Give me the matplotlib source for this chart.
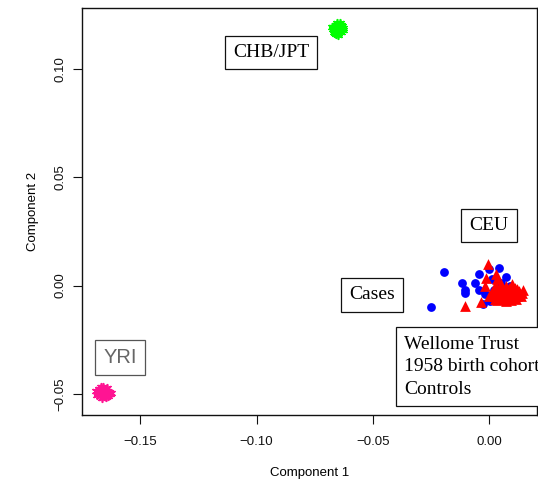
import matplotlib
matplotlib.use("Agg")
import matplotlib.pyplot as plt

# ---- data ----
chb_x = [-0.0660, -0.0650, -0.0640, -0.0655, -0.0645, -0.0635, -0.0665, -0.0670, -0.0648, -0.0630,
         -0.0658, -0.0642, -0.0662, -0.0652, -0.0638, -0.0672, -0.0628, -0.0655, -0.0668, -0.0645,
         -0.0636, -0.0660, -0.0650, -0.0675, -0.0632]
chb_y = [0.1190, 0.1195, 0.1185, 0.1175, 0.1200, 0.1192, 0.1180, 0.1195, 0.1168, 0.1178,
         0.1205, 0.1210, 0.1165, 0.1185, 0.1170, 0.1185, 0.1188, 0.1212, 0.1172, 0.1180,
         0.1204, 0.1160, 0.1158, 0.1192, 0.1198]

yri_x = [-0.1660, -0.1650, -0.1670, -0.1645, -0.1675, -0.1655, -0.1640, -0.1665, -0.1680, -0.1635,
         -0.1658, -0.1672, -0.1648, -0.1685, -0.1630, -0.1662, -0.1643, -0.1677, -0.1652, -0.1668,
         -0.1638, -0.1688, -0.1656, -0.1625, -0.1670]
yri_y = [-0.0490, -0.0495, -0.0500, -0.0485, -0.0488, -0.0510, -0.0500, -0.0478, -0.0495, -0.0490,
         -0.0470, -0.0512, -0.0515, -0.0505, -0.0502, -0.0520, -0.0475, -0.0480, -0.0503, -0.0493,
         -0.0512, -0.0488, -0.0482, -0.0495, -0.0468]

controls_x = [-0.0193, -0.0249, -0.0119, -0.0106, -0.0102, -0.0046, -0.0046, -0.0025, 0.0001, 0.0040,
              0.0070, 0.0062, -0.0059, 0.0020, 0.0050, 0.0080, 0.0110, 0.0040, 0.0010, 0.0130,
              0.0090, -0.0020, 0.0005]
controls_y = [0.0063, -0.0098, 0.0012, -0.0020, -0.0034, 0.0054, -0.0020, -0.0085, 0.0077, 0.0082,
              0.0040, -0.0071, 0.0012, -0.0020, 0.0010, -0.0040, -0.0020, -0.0060, 0.0030, -0.0050,
              0.0000, -0.0040, -0.0070]

cases_x = [0.0010, 0.0020, 0.0020, 0.0030, 0.0030, 0.0035, 0.0040, 0.0045, 0.0050, 0.0050,
           0.0055, 0.0060, 0.0065, 0.0070, 0.0070, 0.0075, 0.0080, 0.0085, 0.0090, 0.0095,
           0.0100, 0.0100, 0.0105, 0.0110, 0.0115, 0.0120, 0.0125, 0.0130, 0.0135, 0.0140,
           0.0145, 0.0060, 0.0040, 0.0085, 0.0110, 0.0025, 0.0015, 0.0120, 0.0075, 0.0095,
           -0.0007, -0.0106, -0.0037, 0.0027, -0.0012, 0.0035, -0.0020, 0.0000]
cases_y = [-0.0030, -0.0010, -0.0050, -0.0030, 0.0000, -0.0065, -0.0020, -0.0045, 0.0005, -0.0030,
           -0.0060, -0.0015, -0.0040, -0.0070, 0.0000, -0.0025, -0.0050, -0.0010, -0.0035, -0.0065,
           -0.0020, 0.0005, -0.0045, -0.0030, -0.0060, -0.0015, -0.0040, -0.0025, -0.0050, -0.0035,
           -0.0020, -0.0055, -0.0040, -0.0060, -0.0010, -0.0060, -0.0045, -0.0050, -0.0045, -0.0005,
           0.0100, -0.0094, -0.0075, 0.0054, 0.0036, 0.0030, 0.0000, -0.0050]

x_ticks = [-0.15, -0.10, -0.05, 0.00]
y_ticks = [-0.05, 0.00, 0.05, 0.10]

# ---- figure ----
plt.rcParams['font.family'] = ['Liberation Sans', 'DejaVu Sans']
fig = plt.figure(figsize=(5.38, 4.8), dpi=100)
ax = fig.add_axes([0.1524, 0.1344, 0.8456, 0.8483])

ast = (6, 2, 0)
ax.scatter(chb_x, chb_y, marker=ast, s=30, color='#00FF00', linewidths=1.2, zorder=3)
ax.scatter(yri_x, yri_y, marker=ast, s=30, color='#FF1493', linewidths=1.2, zorder=3)
ax.scatter(controls_x, controls_y, marker='o', s=40, color='#0000FF', linewidths=0, zorder=3)
ax.scatter(cases_x, cases_y, marker='^', s=60, color='#FF0000', linewidths=0, zorder=4)

ax.set_xlim(-0.175, 0.0205)
ax.set_ylim(-0.060, 0.128)
ax.set_xticks(x_ticks)
ax.set_xticklabels(['\u22120.15', '\u22120.10', '\u22120.05', '0.00'])
ax.set_yticks(y_ticks)
ax.set_yticklabels(['\u22120.05', '0.00', '0.05', '0.10'], rotation=90, va='center')
ax.tick_params(axis='both', direction='out', length=6.5, width=0.8, labelsize=9.5, colors='#111111')
ax.tick_params(axis='x', pad=8)
ax.tick_params(axis='y', pad=5)
for s in ax.spines.values():
    s.set_linewidth(1.0)
    s.set_color('#111111')

ax.set_xlabel('Component 1', fontsize=9.5, labelpad=14)
ax.set_ylabel('Component 2', fontsize=9.5, labelpad=11)

box = dict(boxstyle='square,pad=0.42', fc='white', ec='#111111', lw=0.9)
ser = ['Liberation Serif', 'DejaVu Serif']
ax.text(-0.0938, 0.1075, 'CHB/JPT', family=ser, fontsize=14, ha='center', va='center', bbox=box, zorder=5)
ax.text(-0.0001, 0.0276, 'CEU', family=ser, fontsize=14, ha='center', va='center', bbox=box, zorder=5)
ax.text(-0.0505, -0.0043, 'Cases', family=ser, fontsize=14, ha='center', va='center', bbox=box, zorder=5)
ax.text(-0.0365, -0.0376, 'Wellome Trust\n1958 birth cohort\nControls', family=ser, fontsize=14,
        ha='left', va='center', linespacing=1.45, bbox=box, zorder=5, clip_on=False)
ax.text(-0.1587, -0.0334, 'YRI', fontsize=14.5, color='#666666', ha='center', va='center',
        bbox=dict(boxstyle='square,pad=0.4', fc='white', ec='#555555', lw=0.9), zorder=5)

fig.savefig('out.png', dpi=100)
